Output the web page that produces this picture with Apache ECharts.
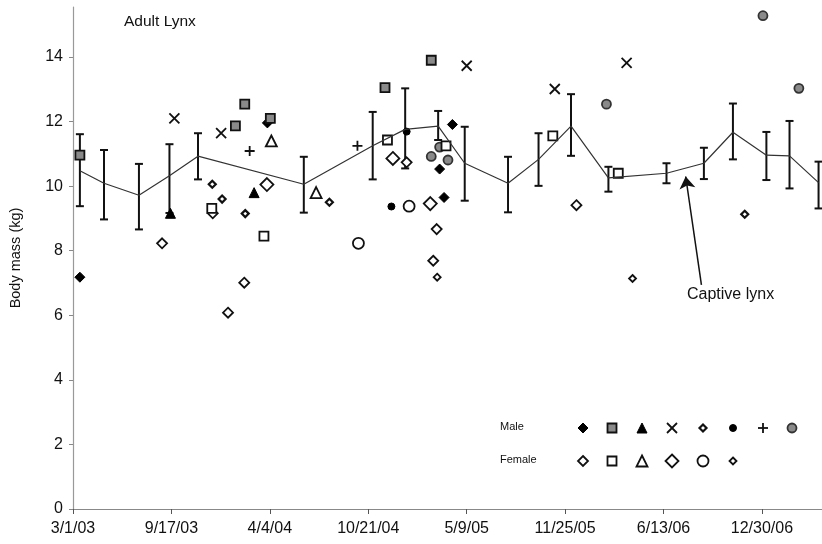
<!DOCTYPE html>
<html>
<head>
<meta charset="utf-8">
<script src="https://cdn.jsdelivr.net/npm/echarts@6/dist/echarts.min.js"></script>
<style>
  html, body { margin: 0; padding: 0; background: #fff; }
  #lynx-chart { width: 822px; height: 544px; }
</style>
</head>
<body>
<div id="lynx-chart"></div>
<script>
// day 0 of the x axis
const baseDate = '2003-03-01'
const xTickDays = [0, 200, 400, 600, 800, 1000, 1200, 1400]
const yTicks = [0, 2, 4, 6, 8, 10, 12, 14]

// captive lynx: mean with error bars
const captiveDates = ['2003-03-15', '2003-05-03', '2003-07-13', '2003-09-13', '2003-11-10', '2004-06-12', '2004-10-30',
  '2005-01-04', '2005-03-12', '2005-05-05', '2005-08-01', '2005-10-02', '2005-12-07', '2006-02-21', '2006-06-19',
  '2006-09-03', '2006-11-01', '2007-01-08', '2007-02-24', '2007-04-24']
const captiveMean = [10.48, 10.09, 9.72, 10.32, 10.93, 10.06, 11.25, 11.76, 11.86, 10.71, 10.09, 10.83, 11.86, 10.26, 10.40, 10.71, 11.67, 10.96, 10.94, 10.11]
const captiveLow = [9.38, 8.97, 8.66, 9.17, 10.21, 9.18, 10.21, 10.55, 11.43, 9.55, 9.19, 10.01, 10.94, 9.83, 10.09, 10.22, 10.83, 10.19, 9.93, 9.31]
const captiveHigh = [11.61, 11.12, 10.69, 11.30, 11.64, 10.91, 12.30, 13.03, 12.33, 11.84, 10.91, 11.64, 12.85, 10.60, 10.71, 11.19, 12.56, 11.68, 12.02, 10.76]

// wild adult lynx, one array per animal
const male1 = [['2003-03-15', 7.18], ['2004-03-30', 11.96], ['2005-04-10', 11.91], ['2005-03-15', 10.53], ['2005-03-24', 9.65]]
const male2 = [['2003-03-15', 10.96], ['2004-01-25', 11.87], ['2004-02-13', 12.54], ['2004-04-05', 12.10], ['2004-11-24', 13.05], ['2005-02-26', 13.90]]
const male3 = [['2003-09-15', 9.16], ['2004-03-03', 9.80]]
const male4 = [['2003-09-23', 12.10], ['2003-12-27', 11.64], ['2005-05-09', 13.73], ['2005-11-04', 13.01], ['2006-03-30', 13.82]]
const male5 = [['2003-12-09', 10.06], ['2003-12-29', 9.60], ['2004-02-14', 9.15], ['2004-08-03', 9.50], ['2006-11-25', 9.13]]
const male6 = [['2004-12-07', 9.37], ['2005-01-07', 11.69]]
const male7 = [['2004-02-23', 11.09], ['2004-09-29', 11.25]]
const male8 = [['2005-02-26', 10.92], ['2005-04-01', 10.81], ['2005-03-15', 11.21], ['2006-02-17', 12.54], ['2007-01-01', 15.28], ['2007-03-15', 13.03]]
const female1 = [['2003-08-29', 8.23], ['2003-12-10', 9.16], ['2004-02-12', 7.01], ['2004-01-10', 6.08], ['2005-03-09', 8.67], ['2005-03-02', 7.69], ['2005-12-18', 9.41], ['2005-01-07', 10.74]]
const female2 = [['2003-12-08', 9.31], ['2004-03-23', 8.45], ['2004-11-29', 11.43], ['2005-03-28', 11.25], ['2005-10-31', 11.56], ['2006-03-13', 10.40]]
const female3 = [['2004-04-07', 11.40], ['2004-07-07', 9.80]]
const female4 = [['2004-03-29', 10.05], ['2004-12-10', 10.86], ['2005-02-24', 9.46]]
const female5 = [['2004-10-01', 8.23], ['2005-01-12', 9.38]]
const female6 = [['2005-03-10', 7.18], ['2006-04-11', 7.14]]

// annotation arrow [date, mass]
const arrowFrom = ['2006-08-29', 6.94]
const arrowTo = ['2006-07-28', 10.30]

const dayOf = s => (Date.parse(s) - Date.parse(baseDate)) / 864e5
const fmtDay = d => {
  const t = new Date(Date.parse(baseDate) + d * 864e5)
  return (t.getUTCMonth() + 1) + '/' + t.getUTCDate() + '/' + String(t.getUTCFullYear()).slice(2)
}

const crossPath = 'path://M0,0L10,10M10,0L0,10'
const plusPath = 'path://M5,0L5,10M0,5L10,5'

// kind, size, fill, stroke, lineWidth
const animals = [
  { name: 'Male 1', data: male1, kind: 'diamond', size: 10, fill: '#000', stroke: '#000', lw: 1, row: 0 },
  { name: 'Male 2', data: male2, kind: 'rect', size: 9, fill: '#8a8a8a', stroke: '#111', lw: 1.8, row: 0 },
  { name: 'Male 3', data: male3, kind: 'triangle', size: 10, fill: '#000', stroke: '#000', lw: 1, row: 0 },
  { name: 'Male 4', data: male4, kind: 'cross', size: 10, fill: 'none', stroke: '#111', lw: 1.8, row: 0 },
  { name: 'Male 5', data: male5, kind: 'diamond', size: 7, fill: '#fff', stroke: '#111', lw: 2.2, row: 0 },
  { name: 'Male 6', data: male6, kind: 'circle', size: 7, fill: '#000', stroke: '#000', lw: 1, row: 0 },
  { name: 'Male 7', data: male7, kind: 'plus', size: 10, fill: 'none', stroke: '#111', lw: 1.8, row: 0 },
  { name: 'Male 8', data: male8, kind: 'circle', size: 9, fill: '#8a8a8a', stroke: '#333', lw: 1.8, row: 0 },
  { name: 'Female 1', data: female1, kind: 'diamond', size: 10, fill: '#fff', stroke: '#111', lw: 1.8, row: 1 },
  { name: 'Female 2', data: female2, kind: 'rect', size: 9, fill: '#fff', stroke: '#111', lw: 1.8, row: 1 },
  { name: 'Female 3', data: female3, kind: 'triangle', size: 11, fill: '#fff', stroke: '#111', lw: 1.8, row: 1 },
  { name: 'Female 4', data: female4, kind: 'diamond', size: 13, fill: '#fff', stroke: '#111', lw: 1.8, row: 1 },
  { name: 'Female 5', data: female5, kind: 'circle', size: 11, fill: '#fff', stroke: '#111', lw: 1.8, row: 1 },
  { name: 'Female 6', data: female6, kind: 'diamond', size: 7, fill: '#fff', stroke: '#111', lw: 1.8, row: 1 }
]

const symbolOf = k => k === 'cross' ? crossPath : (k === 'plus' ? plusPath : k)

function legendIcon(a, cx, cy) {
  const h = a.size / 2
  const style = { fill: a.fill, stroke: a.stroke, lineWidth: a.lw }
  if (a.kind === 'diamond') return { type: 'polygon', shape: { points: [[cx, cy - h], [cx + h, cy], [cx, cy + h], [cx - h, cy]] }, style }
  if (a.kind === 'rect') return { type: 'rect', shape: { x: cx - h, y: cy - h, width: a.size, height: a.size }, style }
  if (a.kind === 'triangle') return { type: 'polygon', shape: { points: [[cx, cy - h], [cx + h, cy + h], [cx - h, cy + h]] }, style }
  if (a.kind === 'circle') return { type: 'circle', shape: { cx: cx, cy: cy, r: h }, style }
  const seg = a.kind === 'cross'
    ? [[cx - h, cy - h, cx + h, cy + h], [cx + h, cy - h, cx - h, cy + h]]
    : [[cx, cy - h, cx, cy + h], [cx - h, cy, cx + h, cy]]
  return { type: 'group', children: seg.map(s => ({ type: 'line', shape: { x1: s[0], y1: s[1], x2: s[2], y2: s[3] }, style: { stroke: a.stroke, lineWidth: a.lw } })) }
}

const legendCols = [583, 612, 642, 672, 703, 733, 763, 792]
const legendRows = [428, 461]
const legendGraphics = [
  { type: 'text', left: 500, top: legendRows[0] - 7, style: { text: 'Male', font: '11px "Liberation Sans", Arial', fill: '#111' } },
  { type: 'text', left: 500, top: legendRows[1] - 7, style: { text: 'Female', font: '11px "Liberation Sans", Arial', fill: '#111' } }
]
let col = [0, 0]
animals.forEach(a => {
  legendGraphics.push(legendIcon(a, legendCols[col[a.row]], legendRows[a.row]))
  col[a.row]++
})

const fontFamily = '"Liberation Sans", Arial, sans-serif'

const option = {
  animation: false,
  backgroundColor: '#fff',
  title: {
    text: 'Adult Lynx',
    left: 119, top: 9,
    textStyle: { fontFamily, fontSize: 15.5, fontWeight: 'normal', color: '#111' }
  },
  grid: { left: 70, right: 0, top: 7, bottom: 35 },
  xAxis: {
    type: 'value',
    min: 0, max: 1522,
    splitLine: { show: false },
    axisLine: { lineStyle: { color: '#888', width: 1.2 } },
    axisTick: { customValues: xTickDays, length: 5, lineStyle: { color: '#555' } },
    axisLabel: { customValues: xTickDays, formatter: fmtDay, margin: 12, color: '#111', fontFamily, fontSize: 16 }
  },
  yAxis: {
    type: 'value',
    min: 0, max: 15.55,
    name: 'Body mass (kg)',
    nameLocation: 'middle',
    nameGap: 50,
    nameTextStyle: { fontFamily, fontSize: 14.5, color: '#111' },
    splitLine: { show: false },
    axisLine: { show: true, lineStyle: { color: '#999', width: 1.2 } },
    axisTick: { show: true, customValues: yTicks, length: 4, lineStyle: { color: '#888' } },
    axisLabel: { customValues: yTicks, margin: 10, color: '#111', fontFamily, fontSize: 16 }
  },
  graphic: legendGraphics.concat([
    { type: 'text', left: 687, top: 287, style: { text: 'Captive lynx', font: '16px "Liberation Sans", Arial', fill: '#111' } }
  ]),
  series: [
    {
      name: 'Captive lynx',
      type: 'line',
      symbol: 'none',
      silent: true,
      lineStyle: { color: '#333', width: 1.2 },
      data: captiveDates.map((d, i) => [dayOf(d), captiveMean[i]]),
      markLine: {
        silent: true,
        symbol: ['none', 'arrow'],
        symbolSize: 12,
        label: { show: false },
        lineStyle: { color: '#111', width: 1.5, type: 'solid' },
        data: [[{ coord: [dayOf(arrowFrom[0]), arrowFrom[1]] }, { coord: [dayOf(arrowTo[0]), arrowTo[1]] }]]
      }
    },
    {
      name: 'Captive range',
      type: 'custom',
      silent: true,
      encode: { x: 0, y: [1, 2] },
      data: captiveDates.map((d, i) => [dayOf(d), captiveLow[i], captiveHigh[i]]),
      renderItem(params, api) {
        const top = api.coord([api.value(0), api.value(2)])
        const bot = api.coord([api.value(0), api.value(1)])
        const w = 4
        const st = { stroke: '#111', lineWidth: 2 }
        return {
          type: 'group',
          children: [
            { type: 'line', shape: { x1: top[0], y1: top[1], x2: bot[0], y2: bot[1] }, style: st },
            { type: 'line', shape: { x1: top[0] - w, y1: top[1], x2: top[0] + w, y2: top[1] }, style: st },
            { type: 'line', shape: { x1: bot[0] - w, y1: bot[1], x2: bot[0] + w, y2: bot[1] }, style: st }
          ]
        }
      }
    }
  ].concat(animals.map(a => ({
    name: a.name,
    type: 'scatter',
    silent: true,
    symbol: symbolOf(a.kind),
    symbolSize: a.size,
    itemStyle: { color: a.fill, borderColor: a.stroke, borderWidth: a.lw, opacity: 1 },
    data: a.data.map(p => [dayOf(p[0]), p[1]])
  })))
}

let myChart = echarts.init(document.getElementById('lynx-chart'))
myChart.setOption(option)
</script>
</body>
</html>
